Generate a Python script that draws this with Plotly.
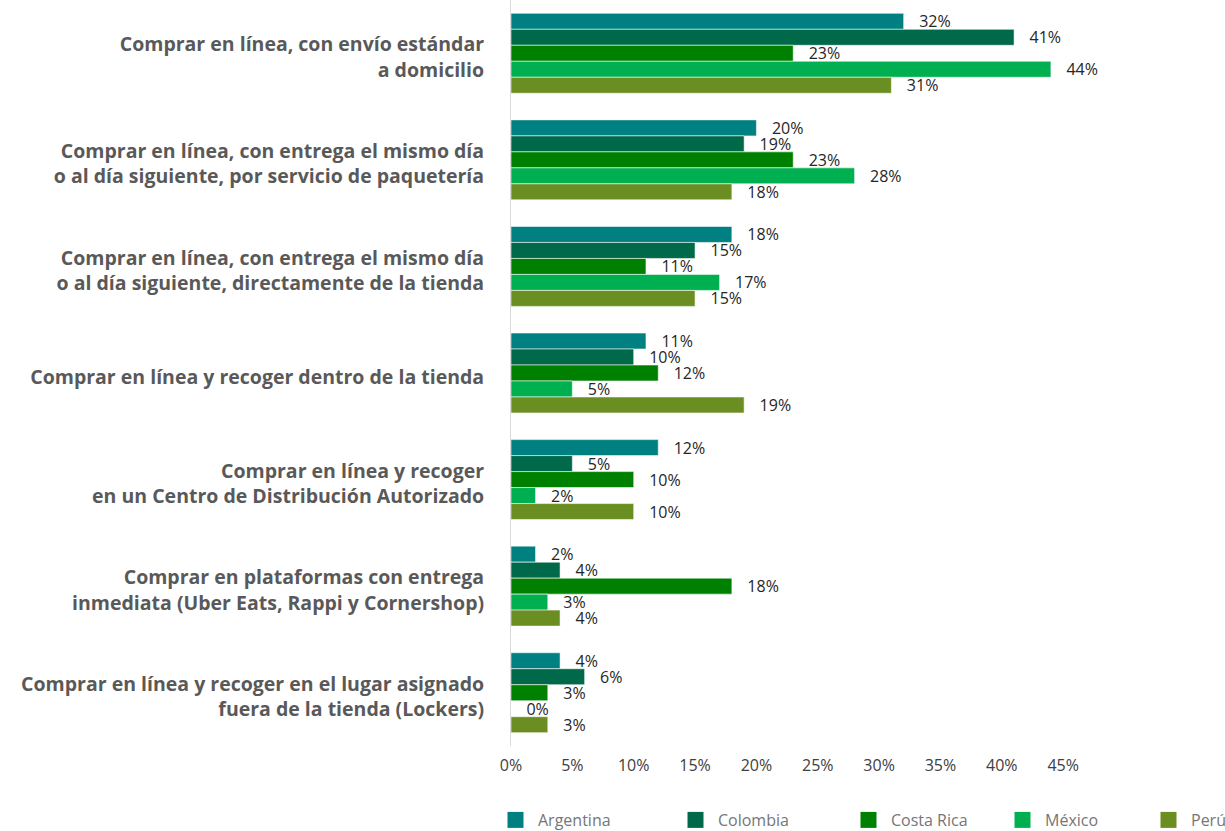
import plotly.graph_objects as go

categories = [
    "Comprar en línea, con envío estándar<br>a domicilio",
    "Comprar en línea, con entrega el mismo día<br>o al día siguiente, por servicio de paquetería",
    "Comprar en línea, con entrega el mismo día<br>o al día siguiente, directamente de la tienda",
    "Comprar en línea y recoger dentro de la tienda",
    "Comprar en línea y recoger<br>en un Centro de Distribución Autorizado",
    "Comprar en plataformas con entrega<br>inmediata (Uber Eats, Rappi y Cornershop)",
    "Comprar en línea y recoger en el lugar asignado<br>fuera de la tienda (Lockers)",
]

series_names = ["Argentina", "Colombia", "Costa Rica", "México", "Perú"]
argentina = [32, 20, 18, 11, 12, 2, 4]
colombia = [41, 19, 15, 10, 5, 4, 6]
costa_rica = [23, 23, 11, 12, 10, 18, 3]
mexico = [44, 28, 17, 5, 2, 3, 0]
peru = [31, 18, 15, 19, 10, 4, 3]
series_values = [argentina, colombia, costa_rica, mexico, peru]

x_ticks = [0, 5, 10, 15, 20, 25, 30, 35, 40, 45]

colors = ["#008080", "#00694A", "#008000", "#00B050", "#6B8E23"]
legend_centers_px = [515, 695, 868, 1022, 1168]

W, H = 1225, 831
FONT = "Open Sans"

fig = go.Figure()
nb = "\u00a0"
for i, (name, vals) in enumerate(zip(series_names, series_values)):
    fig.add_trace(go.Bar(
        name=name,
        y=categories,
        x=vals,
        orientation="h",
        marker=dict(color=colors[i], line=dict(color="rgba(255,255,255,0.55)", width=1)),
        text=[f"{v}%" for v in vals],
        texttemplate=nb * 3 + "%{text}",
        textposition="outside",
        constraintext="none",
        cliponaxis=False,
        textfont=dict(family=FONT, size=16, color="#262626"),
        showlegend=False,
        hoverinfo="skip",
    ))

for i, name in enumerate(series_names):
    lg = "legend" if i == 0 else f"legend{i+1}"
    fig.add_trace(go.Scatter(
        x=[None], y=[None], mode="markers", name=name,
        marker=dict(symbol="square", size=16, color=colors[i]),
        legend=lg, showlegend=True, hoverinfo="skip",
    ))

layout_legends = {}
for i, cx in enumerate(legend_centers_px):
    lg = "legend" if i == 0 else f"legend{i+1}"
    layout_legends[lg] = dict(
        xref="container", yref="container",
        x=(cx - 22) / W, xanchor="left",
        y=11 / H, yanchor="middle",
        orientation="h", itemwidth=35,
        font=dict(family=FONT, size=16, color="#767676"),
        bgcolor="rgba(0,0,0,0)", borderwidth=0,
        itemclick=False, itemdoubleclick=False,
    )

fig.update_layout(
    width=W, height=H,
    margin=dict(l=511, r=125, t=0, b=85, pad=0, autoexpand=False),
    paper_bgcolor="white", plot_bgcolor="white",
    barmode="group", bargap=0.25, bargroupgap=0,
    font=dict(family=FONT),
    **layout_legends,
)

fig.update_xaxes(
    range=[0, 48], tickvals=x_ticks, ticktext=[f"{t}%" for t in x_ticks],
    showgrid=False, zeroline=False, showline=False,
    tickfont=dict(family=FONT, size=16, color="#404040"),
    ticklabelstandoff=8, automargin=False,
)
fig.update_yaxes(
    type="category", categoryorder="array", categoryarray=categories,
    autorange="reversed",
    showgrid=False, zeroline=False,
    showline=True, linecolor="#d9d9d9", linewidth=1,
    tickfont=dict(family=FONT, size=19.5, color="#595959", weight="bold"),
    ticklabelstandoff=22, ticklabelshift=-4, automargin=False,
)

fig.write_html(
    "out.html",
    config={"displayModeBar": False},
    post_script="document.body.style.margin='0px';document.body.style.overflow='hidden';",
)
